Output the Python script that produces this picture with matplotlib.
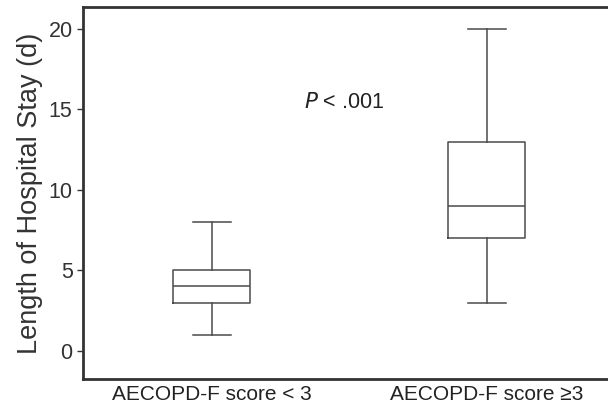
import matplotlib
matplotlib.use("Agg")
import matplotlib.pyplot as plt

plt.rcParams['font.family'] = ['Liberation Sans', 'DejaVu Sans']

# box summary values
groups = ['AECOPD-F score < 3', 'AECOPD-F score \u22653']
whislo = [1, 3]
q1 = [3, 7]
med = [4, 9]
q3 = [5, 13]
whishi = [8, 20]

stats = []
for i in range(len(groups)):
    stats.append({'label': groups[i], 'whislo': whislo[i], 'q1': q1[i],
                  'med': med[i], 'q3': q3[i], 'whishi': whishi[i], 'fliers': []})

fig = plt.figure(figsize=(6.08, 4.08), dpi=100)
ax = fig.add_axes([0.1365, 0.0711, 0.9046, 0.912])

line_col = '#4a4a4a'
lp = dict(color=line_col, linewidth=1.1)
ax.bxp(stats, positions=[1, 2], widths=0.28, showfliers=False,
       boxprops=lp, whiskerprops=lp, capprops=lp,
       medianprops=lp, capwidths=0.14)

ax.set_xlim(0.531, 2.531)
ax.set_ylim(-1.75, 21.37)
ax.set_yticks([0, 5, 10, 15, 20])
ax.tick_params(axis='y', labelsize=15.5, colors='#333333', length=4, width=1)
ax.tick_params(axis='x', labelsize=15, colors='#222222', length=0, pad=4)
ax.set_ylabel('Length of Hospital Stay (d)', fontsize=19.5, color='#333333', labelpad=4)

for s in ['left', 'top', 'bottom']:
    ax.spines[s].set_linewidth(2)
    ax.spines[s].set_color('#333333')
ax.spines['right'].set_visible(False)

ax.text(1.335, 15.4, r'$\it{P}$ < .001', fontsize=15.5, color='#222222',
        ha='left', va='center')

fig.savefig('out.png', dpi=100)
